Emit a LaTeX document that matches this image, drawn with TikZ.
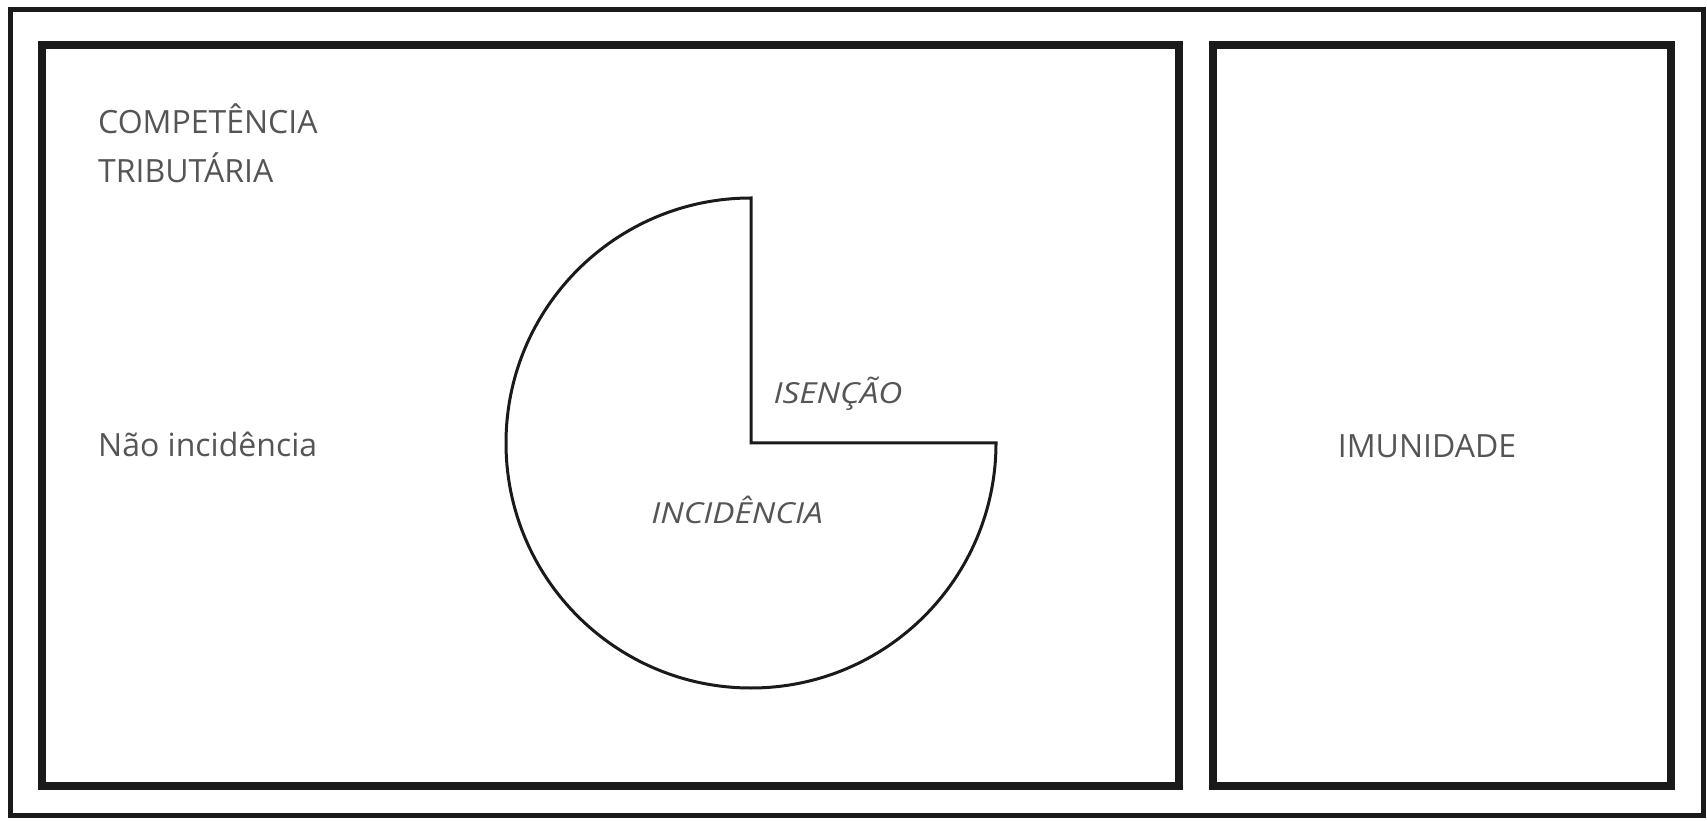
\documentclass[tikz,border=0pt]{standalone}
\usepackage{fontspec}
\usepackage{graphicx}
\setmainfont{Open Sans}
\definecolor{linecol}{HTML}{1A1A1A}
\definecolor{txtcol}{HTML}{555555}
\newcommand{\widetxt}[1]{\scalebox{1.15}[1]{#1}}
\begin{document}
\begin{tikzpicture}[x=1pt,y=1pt,
  thickbox/.style={draw=linecol,line width=8pt},
  outerbox/.style={draw=linecol,line width=5pt},
  pac/.style={draw=linecol,line width=3pt,line join=miter},
  lbl/.style={text=txtcol,font=\fontsize{32}{38}\selectfont,inner sep=0pt},
  ilbl/.style={text=txtcol,font=\fontsize{29}{34}\selectfont\itshape,inner sep=0pt}]
\useasboundingbox (0,0) rectangle (1707,820);
\draw[outerbox] (10,810) rectangle (1703,5);
\draw[thickbox] (42,775) rectangle (1179,34);
\draw[thickbox] (1213,775) rectangle (1671,34);
\coordinate (c) at (751,377);
\draw[pac] (c) -- ++(0,245) arc[start angle=90,end angle=360,radius=245] -- cycle;
\node[lbl,anchor=west] (comp) at (98,701) {COMPETÊNCIA};
\node[lbl,anchor=west] (trib) at (98,652) {TRIBUTÁRIA};
\node[lbl,anchor=west] (nao) at (98,376) {Não incidência};
\node[lbl] (imu) at (1427,374) {IMUNIDADE};
\node[ilbl] (isen) at (838,426) {\widetxt{ISENÇÃO}};
\node[ilbl] (inc) at (737,310) {\widetxt{INCIDÊNCIA}};
\end{tikzpicture}
\end{document}
